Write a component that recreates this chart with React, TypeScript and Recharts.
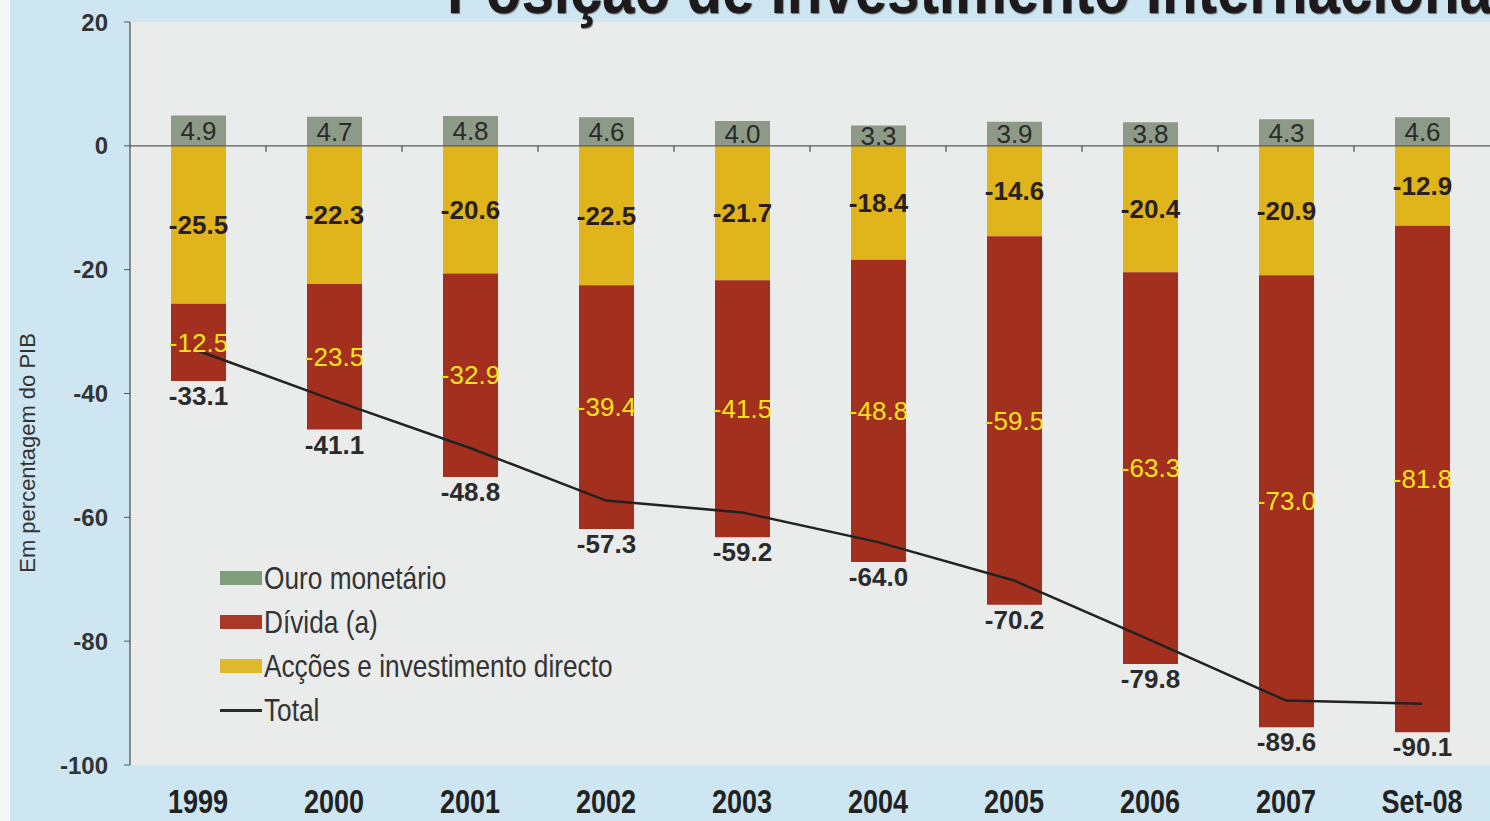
import React from 'react';
import {
  ComposedChart,
  Bar,
  Line,
  XAxis,
  YAxis,
  Legend,
  LabelList,
  ReferenceArea,
  ReferenceLine,
  Label,
} from 'recharts';

// Posição de investimento internacional, em % do PIB
const periods = ['1999', '2000', '2001', '2002', '2003', '2004', '2005', '2006', '2007', 'Set-08'];
const ouroMonetario = [4.9, 4.7, 4.8, 4.6, 4.0, 3.3, 3.9, 3.8, 4.3, 4.6];
const accoesInvestimento = [-25.5, -22.3, -20.6, -22.5, -21.7, -18.4, -14.6, -20.4, -20.9, -12.9];
const divida = [-12.5, -23.5, -32.9, -39.4, -41.5, -48.8, -59.5, -63.3, -73.0, -81.8];
const total = [-33.1, -41.1, -48.8, -57.3, -59.2, -64.0, -70.2, -79.8, -89.6, -90.1];
const yTicks = [-100, -80, -60, -40, -20, 0, 20];

const data = periods.map((p, i) => ({
  period: p,
  ouro: ouroMonetario[i],
  accoes: accoesInvestimento[i],
  divida: divida[i],
  total: total[i],
}));

const SANS = "'Liberation Sans', Arial, sans-serif";
const NARROW_SCALE = 0.82; // the original uses a condensed face

const C_OURO = '#8e9a88';
const C_ACCOES = '#dfb51b';
const C_DIVIDA = '#a3301f';
const C_TOTAL = '#222222';

const fmt = (v: any) => Number(v).toFixed(1);

// zero line with small ticks between the categories
const ZeroLine = (props: any) => {
  const { x1, x2, y1 } = props;
  const step = (x2 - x1) / periods.length;
  const marks = periods.slice(1).map((_, i) => x1 + step * (i + 1));
  return (
    <g>
      <line x1={x1} y1={y1} x2={x2} y2={y1} stroke="#5a5a5a" strokeWidth={1.3} />
      {marks.map((mx, i) => (
        <line key={i} x1={mx} y1={y1} x2={mx} y2={y1 + 6} stroke="#5a5a5a" strokeWidth={1.3} />
      ))}
    </g>
  );
};

// total value written under each bar
const TotalLabel = (props: any) => {
  const { x, y, width, height, index } = props;
  const bottom = Math.max(y, y + height);
  return (
    <text
      x={x + width / 2}
      y={bottom + 15}
      dy="0.355em"
      textAnchor="middle"
      fontFamily={SANS}
      fontWeight="bold"
      fontSize={26}
      fill="#2b2b2b"
    >
      {fmt(total[index])}
    </text>
  );
};

const XTick = (props: any) => {
  const { x, y, payload } = props;
  return (
    <text
      transform={`translate(${x}, ${y + 48}) scale(${NARROW_SCALE}, 1)`}
      textAnchor="middle"
      fontFamily={SANS}
      fontWeight="bold"
      fontSize={33}
      fill="#222"
    >
      {payload.value}
    </text>
  );
};

const legendItems = [
  { label: 'Ouro monetário', color: '#7f9c7c', kind: 'box' },
  { label: 'Dívida (a)', color: '#a8392a', kind: 'box' },
  { label: 'Acções e investimento directo', color: '#e0b82e', kind: 'box' },
  { label: 'Total', color: '#2a2a2a', kind: 'line' },
];

const renderLegend = () => (
  <div style={{ fontFamily: SANS, fontSize: 32, color: '#333' }}>
    {legendItems.map((it) => (
      <div key={it.label} style={{ display: 'flex', alignItems: 'center', height: 44 }}>
        <span
          style={{
            display: 'inline-block',
            width: 42,
            height: it.kind === 'box' ? 14 : 3,
            background: it.color,
            marginRight: 2,
          }}
        />
        <span
          style={{
            display: 'inline-block',
            whiteSpace: 'nowrap',
            transform: `scaleX(${NARROW_SCALE})`,
            transformOrigin: 'left center',
          }}
        >
          {it.label}
        </span>
      </div>
    ))}
  </div>
);

const YLabel = (props: any) => {
  const vb = props.viewBox || {};
  const cx = 28;
  const cy = (vb.y ?? 22) + (vb.height ?? 743) * 0.58;
  return (
    <text
      x={cx}
      y={cy}
      transform={`rotate(-90, ${cx}, ${cy})`}
      textAnchor="middle"
      dominantBaseline="central"
      fontFamily={SANS}
      fontSize={22}
      fill="#333"
    >
      Em percentagem do PIB
    </text>
  );
};

export default function App() {
  return (
    <div
      style={{
        position: 'absolute',
        left: 0,
        top: 0,
        width: 1490,
        height: 821,
        background: '#cde6f1',
        overflow: 'hidden',
      }}
    >
      <div style={{ position: 'absolute', left: 0, top: 0, width: 10, height: 821, background: '#f4f8f9' }} />
      <ComposedChart
        width={1490}
        height={821}
        data={data}
        stackOffset="sign"
        margin={{ top: 22, right: 0, bottom: 0, left: 0 }}
        barCategoryGap={0}
      >
        <ReferenceArea y1={-100} y2={20} fill="#e9eceb" fillOpacity={1} stroke="none" />
        <XAxis
          dataKey="period"
          height={56}
          axisLine={false}
          tickLine={false}
          tickSize={0}
          tickMargin={0}
          tick={<XTick />}
          interval={0}
        />
        <YAxis
          width={130}
          domain={[-100, 20]}
          ticks={yTicks}
          allowDataOverflow
          axisLine={{ stroke: '#555', strokeWidth: 1.3 }}
          tickLine={{ stroke: '#555' }}
          tickSize={6}
          tickMargin={16}
          tick={{ fontFamily: SANS, fontWeight: 'bold', fontSize: 24, fill: '#333' }}
        >
          <Label content={<YLabel />} />
        </YAxis>
        <Legend
          content={renderLegend}
          layout="horizontal"
          verticalAlign="middle"
          align="center"
          wrapperStyle={{ left: 220, top: 556, width: 500 }}
        />
        <Bar dataKey="accoes" stackId="a" fill={C_ACCOES} barSize={55} isAnimationActive={false}>
          <LabelList
            dataKey="accoes"
            position="center"
            formatter={fmt}
            style={{ fontFamily: SANS, fontWeight: 'bold', fontSize: 26, fill: '#2b2020' }}
          />
        </Bar>
        <Bar dataKey="divida" stackId="a" fill={C_DIVIDA} barSize={55} isAnimationActive={false}>
          <LabelList
            dataKey="divida"
            position="center"
            formatter={fmt}
            style={{ fontFamily: SANS, fontSize: 26, fill: '#f5e41a' }}
          />
          <LabelList dataKey="total" content={<TotalLabel />} />
        </Bar>
        <Bar dataKey="ouro" stackId="a" fill={C_OURO} barSize={55} isAnimationActive={false}>
          <LabelList
            dataKey="ouro"
            position="center"
            formatter={fmt}
            style={{ fontFamily: SANS, fontSize: 26, fill: '#2a2a2a' }}
          />
        </Bar>
        <ReferenceLine y={0} shape={<ZeroLine />} />
        <Line
          type="linear"
          dataKey="total"
          stroke={C_TOTAL}
          strokeWidth={2.5}
          dot={false}
          activeDot={false}
          isAnimationActive={false}
        />
      </ComposedChart>
      <div
        style={{
          position: 'absolute',
          left: 447,
          top: -47,
          whiteSpace: 'nowrap',
          fontFamily: SANS,
          fontWeight: 'bold',
          fontSize: 71,
          lineHeight: '71px',
          color: '#1e1a1c',
          textShadow: '1px 1px 1px #777',
          transform: `scaleX(${NARROW_SCALE})`,
          transformOrigin: 'left top',
        }}
      >
        Posição de Investimento Internacional
      </div>
    </div>
  );
}
